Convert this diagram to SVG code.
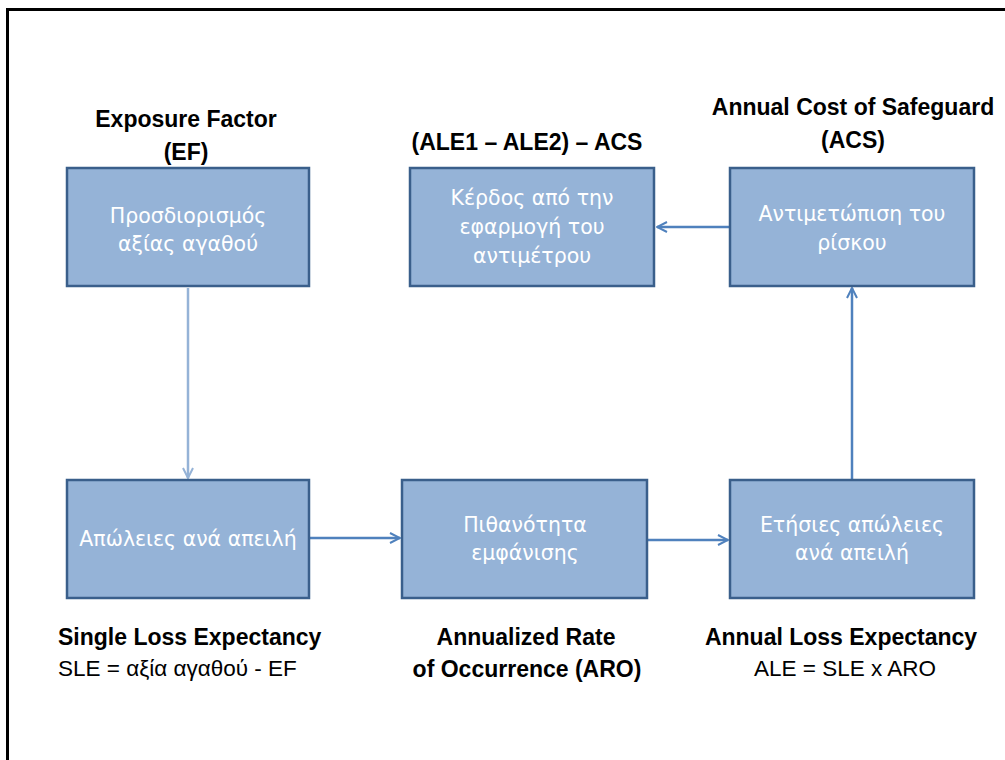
<svg xmlns="http://www.w3.org/2000/svg" width="1005" height="760" viewBox="0 0 1005 760">
<style>
.box{fill:#95B3D7;stroke:#3A5F8B;stroke-width:2.5}
.bt{font-family:"DejaVu Sans",sans-serif;font-size:20.5px;fill:#fff;text-anchor:middle}
.lb{font-family:"Liberation Sans",Arial,sans-serif;font-size:23px;font-weight:bold;fill:#000}
.lr{font-family:"Liberation Sans",Arial,sans-serif;font-size:22.5px;fill:#000}
.c{text-anchor:middle}
.con{fill:none;stroke:#4F81BD;stroke-width:2.5}
.conl{fill:none;stroke:#95B3D7;stroke-width:2.5}
</style>
<defs>
<marker id="ah" viewBox="0 0 12 12" refX="11" refY="6" markerWidth="12" markerHeight="12" markerUnits="userSpaceOnUse" orient="auto">
<path d="M1,1 L11,6 L1,11" fill="none" stroke="#4F81BD" stroke-width="2"/>
</marker>
<marker id="ahl" viewBox="0 0 12 12" refX="11" refY="6" markerWidth="12" markerHeight="12" markerUnits="userSpaceOnUse" orient="auto">
<path d="M1,1 L11,6 L1,11" fill="none" stroke="#95B3D7" stroke-width="2"/>
</marker>
</defs>
<rect width="1005" height="760" fill="#fff"/>
<path d="M7.5,760 V9.5 H1005" fill="none" stroke="#000" stroke-width="3"/>
<g id="connectors">
<line class="conl" x1="188" y1="288" x2="188" y2="478" marker-end="url(#ahl)"/>
<line class="con" x1="310" y1="538" x2="400" y2="538" marker-end="url(#ah)"/>
<line class="con" x1="647" y1="540" x2="728" y2="540" marker-end="url(#ah)"/>
<line class="con" x1="852" y1="480" x2="852" y2="288" marker-end="url(#ah)"/>
<line class="con" x1="730" y1="227" x2="657" y2="227" marker-end="url(#ah)"/>
</g>
<g id="n1"><rect class="box" x="67" y="168" width="242" height="118"/>
<text class="bt" x="188" y="223">Προσδιορισμός</text><text class="bt" x="188" y="251">αξίας αγαθού</text></g>
<g id="n2"><rect class="box" x="410" y="168" width="244" height="118"/>
<text class="bt" x="532" y="205">Κέρδος από την</text><text class="bt" x="532" y="234">εφαρμογή του</text><text class="bt" x="532" y="263">αντιμέτρου</text></g>
<g id="n3"><rect class="box" x="730" y="168" width="244" height="118"/>
<text class="bt" x="852" y="221">Αντιμετώπιση του</text><text class="bt" x="852" y="250">ρίσκου</text></g>
<g id="n4"><rect class="box" x="67" y="480" width="242" height="118"/>
<text class="bt" x="188" y="546">Απώλειες ανά απειλή</text></g>
<g id="n5"><rect class="box" x="402" y="480" width="245" height="118"/>
<text class="bt" x="525" y="532">Πιθανότητα</text><text class="bt" x="525" y="560">εμφάνισης</text></g>
<g id="n6"><rect class="box" x="730" y="480" width="244" height="118"/>
<text class="bt" x="852" y="532">Ετήσιες απώλειες</text><text class="bt" x="852" y="560">ανά απειλή</text></g>
<g id="labels">
<text class="lb c" x="186" y="127">Exposure Factor</text>
<text class="lb c" x="186" y="160">(EF)</text>
<text class="lb c" x="527" y="150">(ALE1 – ALE2) – ACS</text>
<text class="lb c" x="853" y="115">Annual Cost of Safeguard</text>
<text class="lb c" x="853" y="148">(ACS)</text>
<text class="lb" x="58" y="645">Single Loss Expectancy</text>
<text class="lr" x="58" y="676">SLE = αξία αγαθού - EF</text>
<text class="lb c" x="526" y="645">Annualized Rate</text>
<text class="lb c" x="527" y="677">of Occurrence (ARO)</text>
<text class="lb c" x="841" y="645">Annual Loss Expectancy</text>
<text class="lr c" x="845" y="676">ALE = SLE x ARO</text>
</g>
</svg>
